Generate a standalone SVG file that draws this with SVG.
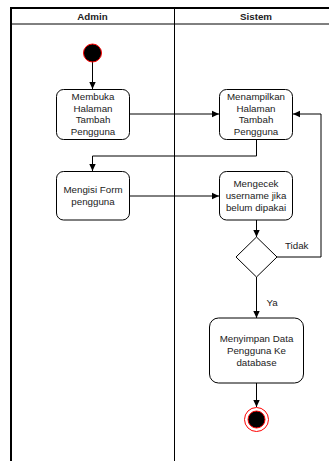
<svg xmlns="http://www.w3.org/2000/svg" width="329" height="461" viewBox="0 0 329 461">
  <style>
    .lane { fill: none; stroke: #000; }
    .frame { fill: none; stroke: #000; stroke-width: 2; }
    .box { fill: #fff; stroke: #000; stroke-width: 1; }
    .edge { fill: none; stroke: #000; stroke-width: 1; }
    .txt { font-family: "Liberation Sans", Arial, sans-serif; font-size: 9.75px; fill: #222; text-anchor: middle; }
    .hdr { font-family: "Liberation Sans", Arial, sans-serif; font-size: 9.75px; font-weight: bold; fill: #222; text-anchor: middle; }
    .lbl { font-family: "Liberation Sans", Arial, sans-serif; font-size: 9.75px; fill: #222; }
  </style>
  <defs>
    <marker id="arrow" viewBox="0 0 8 8" refX="7" refY="4" markerWidth="8" markerHeight="8" markerUnits="userSpaceOnUse" orient="auto">
      <path d="M0,0.8 L7,4 L0,7.2 Z" fill="#000"/>
    </marker>
  </defs>

  <rect width="329" height="461" fill="#fff"/>

  <!-- swimlane pool -->
  <g id="pool">
    <line class="lane" x1="11" y1="24" x2="329" y2="24"/>
    <line class="lane" x1="174.5" y1="8" x2="174.5" y2="461"/>
    <path class="frame" d="M11,461 V8 H329"/>
    <text class="hdr" x="92.5" y="19.5">Admin</text>
    <text class="hdr" x="256" y="19.5">Sistem</text>
  </g>

  <!-- connectors -->
  <g id="connectors">
    <path class="edge" d="M92.5,62 V89" marker-end="url(#arrow)"/>
    <path class="edge" d="M129,114 H219" marker-end="url(#arrow)"/>
    <path class="edge" d="M256.5,139 V156 H92.5 V171" marker-end="url(#arrow)"/>
    <path class="edge" d="M129,196 H219" marker-end="url(#arrow)"/>
    <path class="edge" d="M256.5,220 V237" marker-end="url(#arrow)"/>
    <path class="edge" d="M277,257 H321 V114 H293" marker-end="url(#arrow)"/>
    <path class="edge" d="M256.5,277 V318" marker-end="url(#arrow)"/>
    <path class="edge" d="M256.5,383 V407" marker-end="url(#arrow)"/>
    <text class="lbl" x="285" y="248.5">Tidak</text>
    <text class="lbl" x="266.5" y="305.5">Ya</text>
  </g>

  <!-- nodes -->
  <g id="start">
    <circle cx="92.5" cy="53" r="9" fill="#000" stroke="#ff0000" stroke-width="1"/>
  </g>

  <g id="membuka">
    <rect class="box" x="56.5" y="89.5" width="73" height="50" rx="7"/>
    <text class="txt" x="93" y="100">Membuka</text>
    <text class="txt" x="93" y="111.7">Halaman</text>
    <text class="txt" x="93" y="123.4">Tambah</text>
    <text class="txt" x="93" y="135.1">Pengguna</text>
  </g>

  <g id="menampilkan">
    <rect class="box" x="219.5" y="89.5" width="73" height="50" rx="7"/>
    <text class="txt" x="256" y="100">Menampilkan</text>
    <text class="txt" x="256" y="111.7">Halaman</text>
    <text class="txt" x="256" y="123.4">Tambah</text>
    <text class="txt" x="256" y="135.1">Pengguna</text>
  </g>

  <g id="mengisi">
    <rect class="box" x="56.5" y="171.5" width="73" height="48.5" rx="7"/>
    <text class="txt" x="93" y="193">Mengisi Form</text>
    <text class="txt" x="93" y="204.7">pengguna</text>
  </g>

  <g id="mengecek">
    <rect class="box" x="219.5" y="171.5" width="73" height="48.5" rx="7"/>
    <text class="txt" x="256" y="187.2">Mengecek</text>
    <text class="txt" x="256" y="198.9">username jika</text>
    <text class="txt" x="256" y="210.6">belum dipakai</text>
  </g>

  <g id="keputusan">
    <path class="box" d="M256.5,237 L277,257 L256.5,277 L236,257 Z"/>
  </g>

  <g id="menyimpan">
    <rect class="box" x="209.5" y="318" width="94" height="65" rx="9"/>
    <text class="txt" x="256.5" y="342.2">Menyimpan Data</text>
    <text class="txt" x="256.5" y="353.9">Pengguna Ke</text>
    <text class="txt" x="256.5" y="365.6">database</text>
  </g>

  <g id="end">
    <circle cx="256.5" cy="419.5" r="12" fill="#fff" stroke="#ff0000" stroke-width="1"/>
    <circle cx="256.5" cy="419.5" r="8.5" fill="#000" stroke="#ff0000" stroke-width="1"/>
  </g>
</svg>
